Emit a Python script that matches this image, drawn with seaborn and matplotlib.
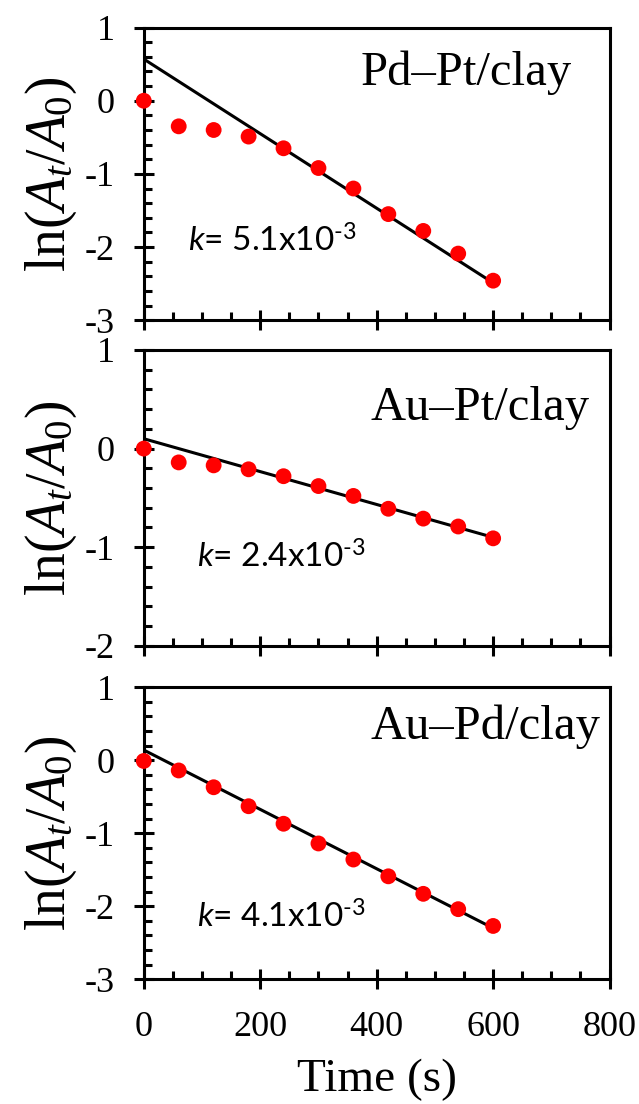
import matplotlib
matplotlib.use("Agg")
import matplotlib.pyplot as plt
import seaborn as sns
import pandas as pd
from matplotlib.ticker import MultipleLocator

# time points (s)
time_s = [0, 60, 120, 180, 240, 300, 360, 420, 480, 540, 600]

# ln(At/A0)
pdpt_vals = [0.0, -0.35, -0.40, -0.49, -0.65, -0.92, -1.20, -1.55, -1.78, -2.09, -2.46]
aupt_vals = [0.0, -0.14, -0.17, -0.21, -0.28, -0.38, -0.48, -0.61, -0.71, -0.79, -0.91]
aupd_vals = [-0.01, -0.14, -0.37, -0.63, -0.87, -1.14, -1.36, -1.59, -1.83, -2.04, -2.27]

# linear fit lines (end points at t=0 and t=600)
fit_t = [0, 600]
pdpt_fit = [0.57, -2.49]
aupt_fit = [0.10, -0.90]
aupd_fit = [0.14, -2.30]

panel_names = ["Pd\u2013Pt/clay", "Au\u2013Pt/clay", "Au\u2013Pd/clay"]
k_values = ["5.1", "2.4", "4.1"]
y_limits = [(-3, 1), (-2, 1), (-3, 1)]

sns.set_style("ticks")
plt.rcParams["font.family"] = ["Liberation Serif", "DejaVu Serif"]
plt.rcParams["axes.unicode_minus"] = False
plt.rcParams["text.color"] = "black"
plt.rcParams["axes.labelcolor"] = "black"
plt.rcParams["xtick.color"] = "black"
plt.rcParams["ytick.color"] = "black"
plt.rcParams["mathtext.fontset"] = "custom"
plt.rcParams["mathtext.rm"] = "Liberation Serif"
plt.rcParams["mathtext.it"] = "Liberation Serif:italic"
plt.rcParams["mathtext.sf"] = "Lato"
plt.rcParams["mathtext.bf"] = "Lato:italic"

fig = plt.figure(figsize=(6.39, 11.04), dpi=100)
positions = [
    [0.225, 0.710, 0.729, 0.265],
    [0.225, 0.415, 0.729, 0.268],
    [0.225, 0.113, 0.729, 0.2645],
]
series = [pdpt_vals, aupt_vals, aupd_vals]
fits = [pdpt_fit, aupt_fit, aupd_fit]
title_pos = [(0.918, 0.844), (0.957, 0.805), (0.98, 0.863)]
k_pos = [(0.095, 0.272), (0.115, 0.300), (0.115, 0.215)]

for i in range(3):
    ax = fig.add_axes(positions[i])
    df = pd.DataFrame({"t": time_s, "v": series[i]})
    fit_df = pd.DataFrame({"t": fit_t, "v": fits[i]})
    sns.lineplot(data=fit_df, x="t", y="v", ax=ax, color="black", linewidth=2.2, zorder=2)
    sns.scatterplot(data=df, x="t", y="v", ax=ax, color="#ff0000", s=130,
                    edgecolor="none", zorder=3, clip_on=False)

    ax.set_xlim(0, 800)
    ax.set_ylim(*y_limits[i])
    ax.xaxis.set_major_locator(MultipleLocator(200))
    ax.xaxis.set_minor_locator(MultipleLocator(50))
    ax.yaxis.set_major_locator(MultipleLocator(1))
    ax.yaxis.set_minor_locator(MultipleLocator(0.2))
    ax.tick_params(which="major", direction="inout", length=14, width=2.2,
                   labelsize=26, pad=8)
    ax.tick_params(axis="y", which="major", pad=14)
    ax.tick_params(which="minor", direction="in", length=6, width=2.2)
    ax.tick_params(top=False, right=False, which="both")
    for sp in ax.spines.values():
        sp.set_linewidth(2.2)
        sp.set_color("black")

    ax.set_ylabel(r"$\mathrm{ln(}A_t/A_{\mathit{0}}\mathrm{)}$", fontsize=40, labelpad=4)
    if i < 2:
        ax.set_xlabel("")
        ax.set_xticklabels([])
    else:
        ax.set_xlabel("Time (s)", fontsize=34, labelpad=10)
        ax.tick_params(axis="x", pad=16)

    ax.text(title_pos[i][0], title_pos[i][1], panel_names[i], transform=ax.transAxes,
            ha="right", va="center", fontsize=35)
    ax.text(k_pos[i][0], k_pos[i][1],
            r"$\mathbf{k}$= " + k_values[i] + "x10$^{\\mathsf{\u2010}\\mathsf{3}}$",
            transform=ax.transAxes, ha="left", va="center", fontsize=24,
            family=["Lato", "DejaVu Sans"])

fig.savefig("out.png", dpi=100)
